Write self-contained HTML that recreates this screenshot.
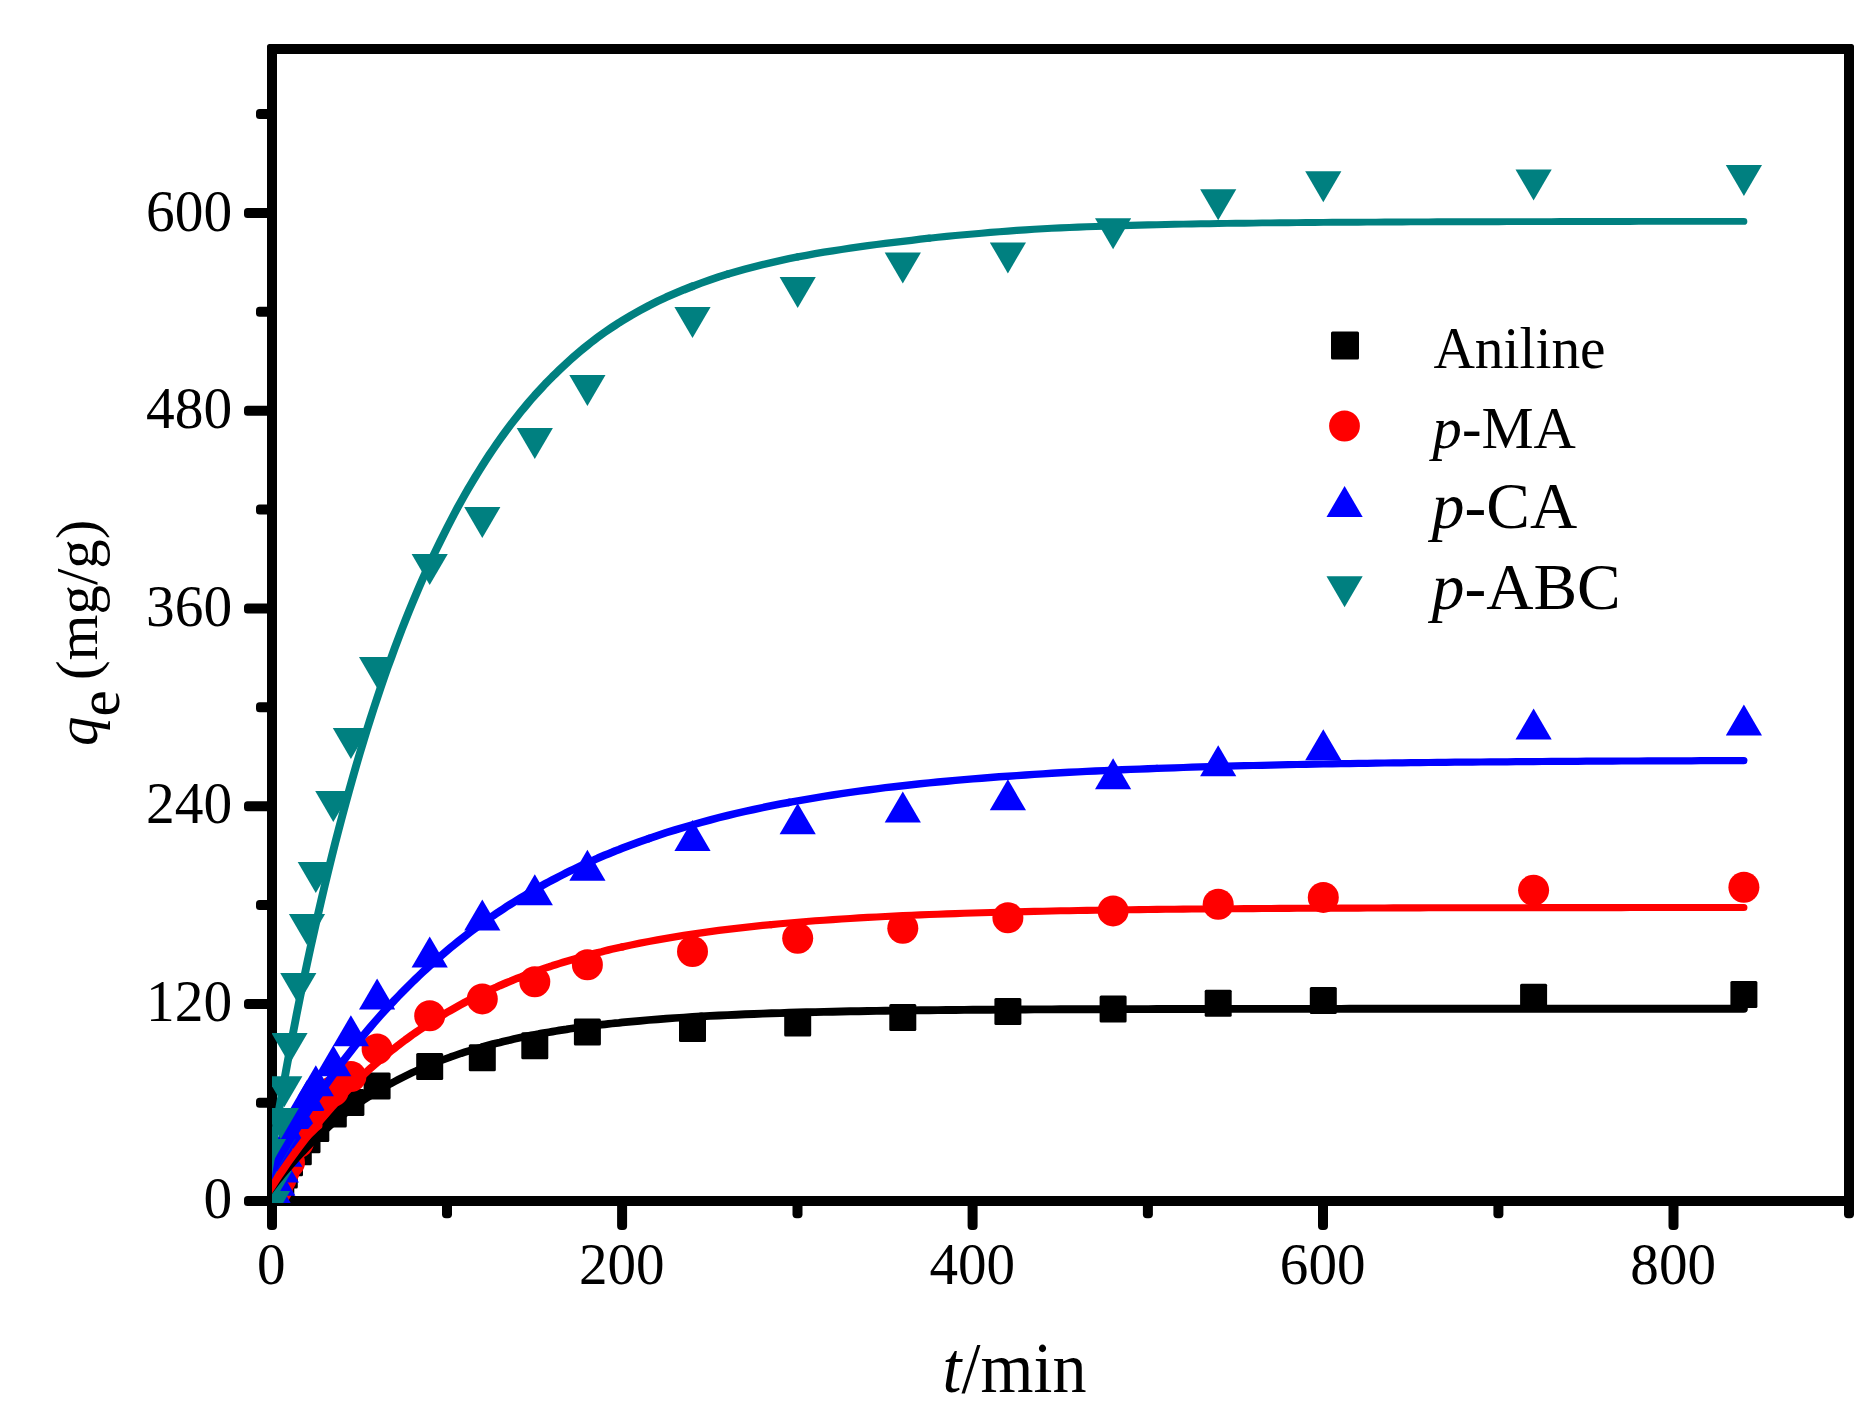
<!DOCTYPE html>
<html lang="en"><head><meta charset="utf-8"><title>Adsorption kinetics</title>
<style>html,body{margin:0;padding:0;background:#fff}svg{display:block}text{font-family:"Liberation Serif",serif;fill:#000}</style>
</head><body>
<svg width="1875" height="1417" viewBox="0 0 1875 1417">
<rect width="1875" height="1417" fill="#fff"/>
<g fill="#000">
<path fill-rule="evenodd" d="M269.5 44H1851.5Q1854 44 1854 46.5V1206H267V46.5Q267 44 269.5 44zM277 54V1196H1844V54z"/>
<rect x="244" y="1196.0" width="28" height="10" rx="3.5"/>
<rect x="244" y="998.9" width="28" height="10" rx="3.5"/>
<rect x="244" y="801.2" width="28" height="10" rx="3.5"/>
<rect x="244" y="603.4" width="28" height="10" rx="3.5"/>
<rect x="244" y="405.7" width="28" height="10" rx="3.5"/>
<rect x="244" y="207.9" width="28" height="10" rx="3.5"/>
<rect x="256" y="1097.8" width="16" height="10" rx="3.5"/>
<rect x="256" y="900.1" width="16" height="10" rx="3.5"/>
<rect x="256" y="702.3" width="16" height="10" rx="3.5"/>
<rect x="256" y="504.5" width="16" height="10" rx="3.5"/>
<rect x="256" y="306.8" width="16" height="10" rx="3.5"/>
<rect x="256" y="109.0" width="16" height="10" rx="3.5"/>
<rect x="267.0" y="1201" width="10" height="29" rx="4"/>
<rect x="617.1" y="1201" width="10" height="29" rx="4"/>
<rect x="967.6" y="1201" width="10" height="29" rx="4"/>
<rect x="1318.0" y="1201" width="10" height="29" rx="4"/>
<rect x="1668.5" y="1201" width="10" height="29" rx="4"/>
<rect x="442.0" y="1201" width="10" height="17.2" rx="4"/>
<rect x="792.5" y="1201" width="10" height="17.2" rx="4"/>
<rect x="1142.9" y="1201" width="10" height="17.2" rx="4"/>
<rect x="1493.4" y="1201" width="10" height="17.2" rx="4"/>
<rect x="1844.0" y="1201" width="10" height="17.2" rx="4"/>
</g>
<defs><clipPath id="c"><rect x="272" y="49" width="1577" height="1154"/></clipPath></defs>
<g clip-path="url(#c)">
<g fill="#000">
<rect x="258.5" y="1187.5" width="27.0" height="27.0" rx="1.5"/>
<rect x="260.3" y="1184.2" width="27.0" height="27.0" rx="1.5"/>
<rect x="263.8" y="1177.5" width="27.0" height="27.0" rx="1.5"/>
<rect x="267.3" y="1169.5" width="27.0" height="27.0" rx="1.5"/>
<rect x="270.8" y="1161.4" width="27.0" height="27.0" rx="1.5"/>
<rect x="276.0" y="1149.3" width="27.0" height="27.0" rx="1.5"/>
<rect x="284.8" y="1138.2" width="27.0" height="27.0" rx="1.5"/>
<rect x="293.5" y="1126.3" width="27.0" height="27.0" rx="1.5"/>
<rect x="302.3" y="1115.0" width="27.0" height="27.0" rx="1.5"/>
<rect x="319.8" y="1100.5" width="27.0" height="27.0" rx="1.5"/>
<rect x="337.4" y="1089.1" width="27.0" height="27.0" rx="1.5"/>
<rect x="363.6" y="1072.5" width="27.0" height="27.0" rx="1.5"/>
<rect x="416.2" y="1052.9" width="27.0" height="27.0" rx="1.5"/>
<rect x="468.8" y="1044.2" width="27.0" height="27.0" rx="1.5"/>
<rect x="521.3" y="1032.3" width="27.0" height="27.0" rx="1.5"/>
<rect x="573.9" y="1018.4" width="27.0" height="27.0" rx="1.5"/>
<rect x="679.0" y="1014.9" width="27.0" height="27.0" rx="1.5"/>
<rect x="784.2" y="1009.5" width="27.0" height="27.0" rx="1.5"/>
<rect x="889.3" y="1003.9" width="27.0" height="27.0" rx="1.5"/>
<rect x="994.4" y="998.1" width="27.0" height="27.0" rx="1.5"/>
<rect x="1099.6" y="995.6" width="27.0" height="27.0" rx="1.5"/>
<rect x="1204.7" y="989.7" width="27.0" height="27.0" rx="1.5"/>
<rect x="1309.8" y="986.9" width="27.0" height="27.0" rx="1.5"/>
<rect x="1520.1" y="983.8" width="27.0" height="27.0" rx="1.5"/>
<rect x="1730.4" y="981.0" width="27.0" height="27.0" rx="1.5"/>
</g><g fill="#f00">
<circle cx="272.0" cy="1201.0" r="15.5"/>
<circle cx="273.8" cy="1197.7" r="15.5"/>
<circle cx="277.3" cy="1189.0" r="15.5"/>
<circle cx="280.8" cy="1179.5" r="15.5"/>
<circle cx="284.3" cy="1171.0" r="15.5"/>
<circle cx="289.5" cy="1162.5" r="15.5"/>
<circle cx="298.3" cy="1142.6" r="15.5"/>
<circle cx="307.0" cy="1125.3" r="15.5"/>
<circle cx="315.8" cy="1107.0" r="15.5"/>
<circle cx="333.3" cy="1091.0" r="15.5"/>
<circle cx="350.9" cy="1076.5" r="15.5"/>
<circle cx="377.1" cy="1049.0" r="15.5"/>
<circle cx="429.7" cy="1015.7" r="15.5"/>
<circle cx="482.3" cy="998.9" r="15.5"/>
<circle cx="534.8" cy="981.8" r="15.5"/>
<circle cx="587.4" cy="964.7" r="15.5"/>
<circle cx="692.5" cy="951.5" r="15.5"/>
<circle cx="797.7" cy="938.3" r="15.5"/>
<circle cx="902.8" cy="928.2" r="15.5"/>
<circle cx="1007.9" cy="917.8" r="15.5"/>
<circle cx="1113.1" cy="910.9" r="15.5"/>
<circle cx="1218.2" cy="904.2" r="15.5"/>
<circle cx="1323.3" cy="897.4" r="15.5"/>
<circle cx="1533.6" cy="890.3" r="15.5"/>
<circle cx="1743.9" cy="887.2" r="15.5"/>
</g><g fill="#00f">
<path d="M253.9 1211.3H290.1L272.0 1180.3z"/>
<path d="M255.7 1205.0H291.9L273.8 1174.0z"/>
<path d="M259.2 1195.8H295.4L277.3 1164.8z"/>
<path d="M262.7 1182.5H298.9L280.8 1151.5z"/>
<path d="M266.2 1166.7H302.4L284.3 1135.7z"/>
<path d="M271.4 1148.8H307.6L289.5 1117.8z"/>
<path d="M280.2 1129.0H316.4L298.3 1098.0z"/>
<path d="M288.9 1110.9H325.1L307.0 1079.9z"/>
<path d="M297.7 1096.2H333.9L315.8 1065.2z"/>
<path d="M315.2 1076.2H351.4L333.3 1045.2z"/>
<path d="M332.8 1046.2H369.0L350.9 1015.2z"/>
<path d="M359.0 1009.5H395.2L377.1 978.5z"/>
<path d="M411.6 967.6H447.8L429.7 936.6z"/>
<path d="M464.2 930.5H500.4L482.3 899.5z"/>
<path d="M516.7 905.3H552.9L534.8 874.3z"/>
<path d="M569.3 880.8H605.5L587.4 849.8z"/>
<path d="M674.4 851.0H710.6L692.5 820.0z"/>
<path d="M779.6 834.2H815.8L797.7 803.2z"/>
<path d="M884.7 822.6H920.9L902.8 791.6z"/>
<path d="M989.8 810.3H1026.0L1007.9 779.3z"/>
<path d="M1095.0 789.3H1131.2L1113.1 758.3z"/>
<path d="M1200.1 776.3H1236.3L1218.2 745.3z"/>
<path d="M1305.2 760.3H1341.4L1323.3 729.3z"/>
<path d="M1515.5 739.6H1551.7L1533.6 708.6z"/>
<path d="M1725.8 735.6H1762.0L1743.9 704.6z"/>
</g><g fill="#008080">
<path d="M253.9 1191.0H290.1L272.0 1222.0z"/>
<path d="M255.7 1171.0H291.9L273.8 1202.0z"/>
<path d="M259.2 1139.0H295.4L277.3 1170.0z"/>
<path d="M262.7 1108.0H298.9L280.8 1139.0z"/>
<path d="M266.2 1076.2H302.4L284.3 1107.2z"/>
<path d="M271.4 1033.0H307.6L289.5 1064.0z"/>
<path d="M280.2 973.0H316.4L298.3 1004.0z"/>
<path d="M288.9 914.0H325.1L307.0 945.0z"/>
<path d="M297.7 862.0H333.9L315.8 893.0z"/>
<path d="M315.2 791.0H351.4L333.3 822.0z"/>
<path d="M332.8 728.0H369.0L350.9 759.0z"/>
<path d="M359.0 657.0H395.2L377.1 688.0z"/>
<path d="M411.6 554.0H447.8L429.7 585.0z"/>
<path d="M464.2 507.0H500.4L482.3 538.0z"/>
<path d="M516.7 428.0H552.9L534.8 459.0z"/>
<path d="M569.3 375.0H605.5L587.4 406.0z"/>
<path d="M674.4 307.0H710.6L692.5 338.0z"/>
<path d="M779.6 277.0H815.8L797.7 308.0z"/>
<path d="M884.7 252.6H920.9L902.8 283.6z"/>
<path d="M989.8 242.4H1026.0L1007.9 273.4z"/>
<path d="M1095.0 218.3H1131.2L1113.1 249.3z"/>
<path d="M1200.1 189.2H1236.3L1218.2 220.2z"/>
<path d="M1305.2 171.3H1341.4L1323.3 202.3z"/>
<path d="M1515.5 169.4H1551.7L1533.6 200.4z"/>
<path d="M1725.8 164.9H1762.0L1743.9 195.9z"/>
</g>
<g fill="none" stroke-linecap="round" stroke-linejoin="round">
<g stroke="#000">
<path stroke-width="7.5" d="M261.5 1202.2L265.0 1197.3L268.5 1192.5L272.0 1187.8L275.5 1183.3L279.0 1178.8L282.5 1174.5L286.0 1170.3L289.5 1166.2L293.0 1162.2L296.5 1158.3L300.0 1154.5L303.5 1150.8L307.0 1147.2L310.5 1143.7L314.1 1140.2L317.6 1136.9L321.1 1133.6L324.6 1130.5L328.1 1127.4L331.6 1124.3L335.1 1121.4L338.6 1118.5L342.1 1115.8L345.6 1113.0L349.1 1110.4L352.6 1107.8L356.1 1105.3L359.6 1102.8L363.1 1100.4L366.6 1098.1L370.1 1095.8L373.6 1093.6L377.1 1091.5L380.6 1089.4L384.1 1087.3L387.6 1085.3L391.2 1083.4L394.7 1081.5L398.2 1079.6L401.7 1077.8L405.2 1076.1L408.7 1074.4L412.2 1072.7L415.7 1071.1L419.2 1069.5L422.7 1067.9L426.2 1066.4L429.7 1065.0L433.2 1063.5L436.7 1062.2L440.2 1060.8L443.7 1059.5L447.2 1058.2L450.7 1056.9L454.2 1055.7L457.7 1054.5L461.2 1053.3L464.7 1052.2L468.2 1051.1L471.8 1050.0L475.3 1049.0L478.8 1048.0L482.3 1047.0"/>
<path stroke-width="7.7" d="M482.3 1047.0L485.8 1046.0L489.3 1045.0L492.8 1044.1L496.3 1043.2L499.8 1042.4L503.3 1041.5L506.8 1040.7L510.3 1039.9L513.8 1039.1L517.3 1038.3L520.8 1037.5L524.3 1036.8L527.8 1036.1L531.3 1035.4L534.8 1034.7L538.3 1034.1L541.8 1033.4L545.3 1032.8L548.9 1032.2L552.4 1031.6L555.9 1031.0L559.4 1030.4L562.9 1029.9L566.4 1029.4L569.9 1028.8L573.4 1028.3L576.9 1027.8L580.4 1027.3L583.9 1026.9L587.4 1026.4L590.9 1026.0L594.4 1025.5L597.9 1025.1L601.4 1024.7L604.9 1024.3L608.4 1023.9L611.9 1023.5L615.4 1023.1L618.9 1022.8L622.4 1022.4L631.2 1021.6L640.0 1020.8L648.7 1020.0L657.5 1019.3L666.2 1018.7L675.0 1018.0L683.8 1017.5L692.5 1016.9L701.3 1016.4"/>
<path stroke-width="7.9" d="M701.3 1016.4L710.1 1015.9L718.8 1015.5L727.6 1015.1L736.3 1014.7L745.1 1014.3L753.9 1014.0L762.6 1013.6L771.4 1013.3L780.1 1013.1L788.9 1012.8L797.7 1012.5L806.4 1012.3L815.2 1012.1L823.9 1011.9L832.7 1011.7L841.5 1011.5L850.2 1011.3L859.0 1011.2L867.8 1011.0L876.5 1010.9L885.3 1010.8L894.0 1010.6L902.8 1010.5L911.6 1010.4L920.3 1010.3L929.1 1010.2L937.8 1010.1L946.6 1010.0L955.4 1010.0L964.1 1009.9L972.9 1009.8L981.6 1009.8L990.4 1009.7L999.2 1009.6L1007.9 1009.6L1016.7 1009.5L1025.5 1009.5L1034.2 1009.4L1043.0 1009.4L1051.7 1009.4L1060.5 1009.3L1069.3 1009.3L1078.0 1009.3L1086.8 1009.2L1095.5 1009.2L1104.3 1009.2L1113.1 1009.2L1121.8 1009.1L1130.6 1009.1L1139.3 1009.1L1148.1 1009.1L1156.9 1009.0L1165.6 1009.0L1174.4 1009.0L1183.2 1009.0L1191.9 1009.0L1200.7 1009.0L1209.4 1009.0L1218.2 1009.0L1227.0 1008.9L1235.7 1008.9L1244.5 1008.9L1253.2 1008.9L1262.0 1008.9L1270.8 1008.9L1279.5 1008.9L1288.3 1008.9L1297.0 1008.9L1305.8 1008.9L1314.6 1008.9L1323.3 1008.9L1332.1 1008.9L1340.9 1008.9L1349.6 1008.8L1358.4 1008.8L1367.1 1008.8L1375.9 1008.8L1384.7 1008.8L1393.4 1008.8L1402.2 1008.8L1410.9 1008.8L1419.7 1008.8L1428.5 1008.8L1437.2 1008.8L1446.0 1008.8L1454.8 1008.8L1463.5 1008.8L1472.3 1008.8L1481.0 1008.8L1489.8 1008.8L1498.6 1008.8L1507.3 1008.8L1516.1 1008.8L1524.8 1008.8L1533.6 1008.8L1542.4 1008.8L1551.1 1008.8L1559.9 1008.8L1568.6 1008.8L1577.4 1008.8L1586.2 1008.8L1594.9 1008.8L1603.7 1008.8L1612.4 1008.8L1621.2 1008.8L1630.0 1008.8L1638.7 1008.8L1647.5 1008.8L1656.3 1008.8L1665.0 1008.8L1673.8 1008.8L1682.5 1008.8L1691.3 1008.8L1700.1 1008.8L1708.8 1008.8L1717.6 1008.8L1726.3 1008.8L1735.1 1008.8L1743.9 1008.8"/>
</g>
<g stroke="#f00">
<path stroke-width="7.7" d="M261.5 1203.2L265.0 1197.5L268.5 1191.9L272.0 1186.4L275.5 1180.9L279.0 1175.6L282.5 1170.5L286.0 1165.4L289.5 1160.4L293.0 1155.5L296.5 1150.7L300.0 1145.9L303.5 1141.3L307.0 1136.8L310.5 1132.3L314.1 1128.0L317.6 1123.7L321.1 1119.5L324.6 1115.4L328.1 1111.4L331.6 1107.4L335.1 1103.6L338.6 1099.8L342.1 1096.0L345.6 1092.4L349.1 1088.8L352.6 1085.3L356.1 1081.8L359.6 1078.4L363.1 1075.1L366.6 1071.9L370.1 1068.7L373.6 1065.6L377.1 1062.5L380.6 1059.5L384.1 1056.6L387.6 1053.7L391.2 1050.8L394.7 1048.1L398.2 1045.3L401.7 1042.7L405.2 1040.0L408.7 1037.5L412.2 1034.9L415.7 1032.5L419.2 1030.1L422.7 1027.7L426.2 1025.3L429.7 1023.1L433.2 1020.8L436.7 1018.6L440.2 1016.5L443.7 1014.4L447.2 1012.3L450.7 1010.3L454.2 1008.3L457.7 1006.3L461.2 1004.4L464.7 1002.5L468.2 1000.7L471.8 998.9L475.3 997.1L478.8 995.4L482.3 993.6L485.8 992.0L489.3 990.3L492.8 988.7L496.3 987.2L499.8 985.6L503.3 984.1L506.8 982.6L510.3 981.2L513.8 979.7L517.3 978.3L520.8 977.0L524.3 975.6L527.8 974.3L531.3 973.0L534.8 971.7"/>
<path stroke-width="7.5" d="M534.8 971.7L538.3 970.5L541.8 969.2L545.3 968.0L548.9 966.9L552.4 965.7L555.9 964.6L559.4 963.5L562.9 962.4L566.4 961.3L569.9 960.3L573.4 959.3L576.9 958.3L580.4 957.3L583.9 956.3L587.4 955.4L590.9 954.4L594.4 953.5L597.9 952.6L601.4 951.8L604.9 950.9L608.4 950.0L611.9 949.2L615.4 948.4L618.9 947.6L622.4 946.8"/>
<path stroke-width="7.3" d="M622.4 946.8L631.2 945.0L640.0 943.2L648.7 941.5L657.5 939.8L666.2 938.3L675.0 936.8L683.8 935.4L692.5 934.1L701.3 932.8L710.1 931.6L718.8 930.4L727.6 929.3L736.3 928.3L745.1 927.3L753.9 926.3L762.6 925.4L771.4 924.6"/>
<path stroke-width="7.1" d="M771.4 924.6L780.1 923.8L788.9 923.0L797.7 922.2L806.4 921.5L815.2 920.8L823.9 920.2L832.7 919.6L841.5 919.0L850.2 918.5L859.0 917.9L867.8 917.4L876.5 917.0L885.3 916.5L894.0 916.1L902.8 915.6L911.6 915.3L920.3 914.9L929.1 914.5L937.8 914.2L946.6 913.9L955.4 913.6L964.1 913.3L972.9 913.0L981.6 912.7L990.4 912.5L999.2 912.2L1007.9 912.0L1016.7 911.8L1025.5 911.6L1034.2 911.4L1043.0 911.2L1051.7 911.0L1060.5 910.8L1069.3 910.7L1078.0 910.5L1086.8 910.4L1095.5 910.2L1104.3 910.1L1113.1 910.0L1121.8 909.8L1130.6 909.7L1139.3 909.6L1148.1 909.5L1156.9 909.4L1165.6 909.3L1174.4 909.2L1183.2 909.1L1191.9 909.0L1200.7 909.0L1209.4 908.9L1218.2 908.8L1227.0 908.8L1235.7 908.7L1244.5 908.6L1253.2 908.6L1262.0 908.5L1270.8 908.5L1279.5 908.4L1288.3 908.4L1297.0 908.3L1305.8 908.3L1314.6 908.2L1323.3 908.2L1332.1 908.2L1340.9 908.1L1349.6 908.1L1358.4 908.1L1367.1 908.0L1375.9 908.0L1384.7 908.0L1393.4 907.9L1402.2 907.9L1410.9 907.9L1419.7 907.9L1428.5 907.8L1437.2 907.8L1446.0 907.8L1454.8 907.8L1463.5 907.8L1472.3 907.7L1481.0 907.7L1489.8 907.7L1498.6 907.7L1507.3 907.7L1516.1 907.7L1524.8 907.7L1533.6 907.6L1542.4 907.6L1551.1 907.6L1559.9 907.6L1568.6 907.6L1577.4 907.6L1586.2 907.6L1594.9 907.6L1603.7 907.6L1612.4 907.6L1621.2 907.6L1630.0 907.5L1638.7 907.5L1647.5 907.5L1656.3 907.5L1665.0 907.5L1673.8 907.5L1682.5 907.5L1691.3 907.5L1700.1 907.5L1708.8 907.5L1717.6 907.5L1726.3 907.5L1735.1 907.5L1743.9 907.5"/>
</g>
<g stroke="#00f">
<path stroke-width="7.8" d="M261.5 1191.0L265.0 1184.4L268.5 1177.9L272.0 1171.5L275.5 1165.3L279.0 1159.1L282.5 1153.0L286.0 1147.0L289.5 1141.0L293.0 1135.2L296.5 1129.5L300.0 1123.8L303.5 1118.3L307.0 1112.8L310.5 1107.4L314.1 1102.1L317.6 1096.9L321.1 1091.7L324.6 1086.6L328.1 1081.7L331.6 1076.7L335.1 1071.9L338.6 1067.1L342.1 1062.4L345.6 1057.8L349.1 1053.3L352.6 1048.8L356.1 1044.4L359.6 1040.0L363.1 1035.7L366.6 1031.5L370.1 1027.4L373.6 1023.3L377.1 1019.3L380.6 1015.3L384.1 1011.4L387.6 1007.6L391.2 1003.8L394.7 1000.0L398.2 996.4L401.7 992.8L405.2 989.2L408.7 985.7L412.2 982.3L415.7 978.9L419.2 975.5L422.7 972.2L426.2 969.0L429.7 965.8L433.2 962.6L436.7 959.5L440.2 956.5L443.7 953.5L447.2 950.5L450.7 947.6L454.2 944.7L457.7 941.9L461.2 939.1L464.7 936.4L468.2 933.7L471.8 931.0L475.3 928.4L478.8 925.9L482.3 923.3L485.8 920.8L489.3 918.4L492.8 915.9L496.3 913.6L499.8 911.2L503.3 908.9L506.8 906.6L510.3 904.4L513.8 902.2L517.3 900.0L520.8 897.9L524.3 895.8L527.8 893.7L531.3 891.6L534.8 889.6L538.3 887.6L541.8 885.7L545.3 883.8L548.9 881.9L552.4 880.0L555.9 878.2L559.4 876.4L562.9 874.6L566.4 872.8L569.9 871.1L573.4 869.4L576.9 867.7L580.4 866.1L583.9 864.5L587.4 862.9L590.9 861.3L594.4 859.8L597.9 858.2L601.4 856.7L604.9 855.2L608.4 853.8L611.9 852.4L615.4 850.9L618.9 849.6L622.4 848.2L631.2 844.9L640.0 841.6L648.7 838.6"/>
<path stroke-width="7.6" d="M648.7 838.6L657.5 835.6L666.2 832.7L675.0 830.0L683.8 827.3L692.5 824.8L701.3 822.3L710.1 820.0L718.8 817.7L727.6 815.5L736.3 813.4L745.1 811.4L753.9 809.5L762.6 807.6L771.4 805.8L780.1 804.1L788.9 802.4"/>
<path stroke-width="7.4" d="M788.9 802.4L797.7 800.8L806.4 799.3L815.2 797.8L823.9 796.3L832.7 795.0L841.5 793.6L850.2 792.4L859.0 791.2L867.8 790.0L876.5 788.8L885.3 787.7L894.0 786.7L902.8 785.7L911.6 784.7L920.3 783.8L929.1 782.9L937.8 782.0L946.6 781.2L955.4 780.4L964.1 779.6L972.9 778.9L981.6 778.2L990.4 777.5L999.2 776.8L1007.9 776.2L1016.7 775.6L1025.5 775.0L1034.2 774.4L1043.0 773.9L1051.7 773.3L1060.5 772.8L1069.3 772.3L1078.0 771.9L1086.8 771.4L1095.5 771.0L1104.3 770.6L1113.1 770.2L1121.8 769.8L1130.6 769.4L1139.3 769.1L1148.1 768.7L1156.9 768.4"/>
<path stroke-width="7.2" d="M1156.9 768.4L1165.6 768.1L1174.4 767.8L1183.2 767.5L1191.9 767.2L1200.7 766.9L1209.4 766.6L1218.2 766.4L1227.0 766.1L1235.7 765.9L1244.5 765.7L1253.2 765.5L1262.0 765.3L1270.8 765.1L1279.5 764.9L1288.3 764.7L1297.0 764.5L1305.8 764.3L1314.6 764.2L1323.3 764.0L1332.1 763.9L1340.9 763.7L1349.6 763.6L1358.4 763.4L1367.1 763.3L1375.9 763.2L1384.7 763.0L1393.4 762.9L1402.2 762.8L1410.9 762.7L1419.7 762.6L1428.5 762.5L1437.2 762.4L1446.0 762.3L1454.8 762.2L1463.5 762.1L1472.3 762.1L1481.0 762.0L1489.8 761.9L1498.6 761.8L1507.3 761.8L1516.1 761.7L1524.8 761.6L1533.6 761.6L1542.4 761.5L1551.1 761.4L1559.9 761.4L1568.6 761.3L1577.4 761.3L1586.2 761.2L1594.9 761.2L1603.7 761.1L1612.4 761.1L1621.2 761.0L1630.0 761.0L1638.7 761.0L1647.5 760.9L1656.3 760.9L1665.0 760.9L1673.8 760.8L1682.5 760.8L1691.3 760.8L1700.1 760.7L1708.8 760.7L1717.6 760.7L1726.3 760.6L1735.1 760.6L1743.9 760.6"/>
</g>
<g stroke="#008080">
<path stroke-width="7.9" d="M261.5 1216.4L265.0 1194.1L268.5 1172.4L272.0 1151.1L275.5 1130.4L279.0 1110.0L282.5 1090.2L286.0 1070.8L289.5 1051.8L293.0 1033.2L296.5 1015.1L300.0 997.5L303.5 980.5L307.0 963.9L310.5 947.6L314.1 931.7L317.6 916.2L321.1 901.0L324.6 886.1L328.1 871.5L331.6 857.3L335.1 843.3L338.6 829.7L342.1 816.4L345.6 803.4L349.1 790.6L352.6 778.1L356.1 765.9L359.6 754.0L363.1 742.4L366.6 730.9L370.1 719.8L373.6 708.9L377.1 698.2L380.6 687.7L384.1 677.5L387.6 667.5L391.2 657.8L394.7 648.2L398.2 638.8L401.7 629.7L405.2 620.8L408.7 612.0L412.2 603.4L415.7 595.1L419.2 586.9L422.7 578.9L426.2 571.0L429.7 563.4L433.2 555.9L436.7 548.6L440.2 541.4L443.7 534.4L447.2 527.5L450.7 520.7L454.2 514.0L457.7 507.4L461.2 501.1L464.7 494.8L468.2 488.7L471.8 482.7L475.3 476.9L478.8 471.2L482.3 465.6L485.8 460.1L489.3 454.8L492.8 449.6L496.3 444.5L499.8 439.5L503.3 434.6L506.8 429.8L510.3 425.2L513.8 420.6L517.3 416.2L520.8 411.8L524.3 407.6L527.8 403.4L531.3 399.3L534.8 395.3L538.3 391.5L541.8 387.7L545.3 383.9L548.9 380.3L552.4 376.7L555.9 373.3L559.4 369.9L562.9 366.6L566.4 363.3L569.9 360.1L573.4 357.0L576.9 354.0L580.4 351.0L583.9 348.1L587.4 345.3L590.9 342.5L594.4 339.8L597.9 337.2L601.4 334.6L604.9 332.1L608.4 329.7L611.9 327.4L615.4 325.1L618.9 322.8L622.4 320.7L631.2 315.4L640.0 310.4L648.7 305.7L657.5 301.3L666.2 297.2L675.0 293.4L683.8 289.7L692.5 286.3"/>
<path stroke-width="7.7" d="M692.5 286.3L701.3 283.0L710.1 279.9L718.8 276.9L727.6 274.1"/>
<path stroke-width="7.5" d="M727.6 274.1L736.3 271.6L745.1 269.2L753.9 266.9L762.6 264.7L771.4 262.6L780.1 260.6L788.9 258.7L797.7 256.9"/>
<path stroke-width="7.3" d="M797.7 256.9L806.4 255.3L815.2 253.7L823.9 252.2L832.7 250.8L841.5 249.5L850.2 248.2L859.0 246.9L867.8 245.7L876.5 244.5L885.3 243.4L894.0 242.4L902.8 241.4L911.6 240.3L920.3 239.2L929.1 238.2"/>
<path stroke-width="7.1" d="M929.1 238.2L937.8 237.3L946.6 236.4L955.4 235.5L964.1 234.7L972.9 234.0L981.6 233.2L990.4 232.4L999.2 231.7L1007.9 231.1L1016.7 230.4L1025.5 229.9L1034.2 229.3L1043.0 228.8L1051.7 228.3L1060.5 227.9L1069.3 227.5L1078.0 227.1L1086.8 226.8L1095.5 226.5L1104.3 226.2L1113.1 225.9L1121.8 225.6L1130.6 225.4L1139.3 225.1L1148.1 224.9L1156.9 224.7L1165.6 224.5"/>
<path stroke-width="6.9" d="M1165.6 224.5L1174.4 224.3L1183.2 224.1L1191.9 224.0L1200.7 223.8L1209.4 223.7L1218.2 223.5L1227.0 223.4L1235.7 223.3L1244.5 223.2L1253.2 223.1L1262.0 222.9L1270.8 222.9L1279.5 222.8L1288.3 222.7L1297.0 222.6L1305.8 222.5L1314.6 222.5L1323.3 222.4L1332.1 222.3L1340.9 222.3L1349.6 222.2L1358.4 222.2L1367.1 222.1L1375.9 222.1L1384.7 222.0L1393.4 222.0L1402.2 222.0L1410.9 221.9L1419.7 221.9L1428.5 221.9L1437.2 221.8L1446.0 221.8L1454.8 221.8L1463.5 221.7L1472.3 221.7L1481.0 221.7L1489.8 221.7L1498.6 221.7L1507.3 221.6L1516.1 221.6L1524.8 221.6L1533.6 221.6L1542.4 221.6L1551.1 221.6L1559.9 221.5L1568.6 221.5L1577.4 221.5L1586.2 221.5L1594.9 221.5L1603.7 221.5L1612.4 221.5L1621.2 221.5L1630.0 221.5L1638.7 221.4L1647.5 221.4L1656.3 221.4L1665.0 221.4L1673.8 221.4L1682.5 221.4L1691.3 221.4L1700.1 221.4L1708.8 221.4L1717.6 221.4L1726.3 221.4L1735.1 221.4L1743.9 221.4"/>
</g>
</g></g>
<text transform="translate(232.1 1218.0) scale(0.975 1)" font-size="58.9" text-anchor="end">0</text>
<text transform="translate(232.1 1020.6) scale(0.975 1)" font-size="58.9" text-anchor="end">120</text>
<text transform="translate(232.1 823.2) scale(0.975 1)" font-size="58.9" text-anchor="end">240</text>
<text transform="translate(232.1 625.8) scale(0.975 1)" font-size="58.9" text-anchor="end">360</text>
<text transform="translate(232.1 428.4) scale(0.975 1)" font-size="58.9" text-anchor="end">480</text>
<text transform="translate(232.1 231.0) scale(0.975 1)" font-size="58.9" text-anchor="end">600</text>
<text transform="translate(271.4 1284) scale(0.97 1)" font-size="58.9" text-anchor="middle">0</text>
<text transform="translate(621.8 1284) scale(0.97 1)" font-size="58.9" text-anchor="middle">200</text>
<text transform="translate(972.3 1284) scale(0.97 1)" font-size="58.9" text-anchor="middle">400</text>
<text transform="translate(1322.7 1284) scale(0.97 1)" font-size="58.9" text-anchor="middle">600</text>
<text transform="translate(1673.2 1284) scale(0.97 1)" font-size="58.9" text-anchor="middle">800</text>
<rect x="1331" y="331.5" width="28" height="28" rx="1.5" fill="#000"/>
<circle cx="1344.5" cy="426" r="15.4" fill="#f00"/>
<path d="M1326.5 517H1362.7L1344.6 486z" fill="#00f"/>
<path d="M1326.5 576.2H1362.7L1344.6 607.2z" fill="#008080"/>
<text transform="translate(1433.4 368.4) scale(0.98 1)" font-size="58.6">Aniline</text>
<text x="1432.6" y="447.9" font-size="58.6"><tspan font-style="italic">p</tspan>-MA</text>
<text x="1431.8" y="528" font-size="65.4"><tspan font-style="italic">p</tspan>-CA</text>
<text x="1431.8" y="608.5" font-size="65.4"><tspan font-style="italic">p</tspan>-ABC</text>
<text transform="translate(942.6 1391.7) scale(0.94 1)" font-size="72.5"><tspan font-style="italic">t</tspan>/min</text>
<text transform="translate(96.5 746) rotate(-90)" font-size="59"><tspan font-style="italic">q</tspan><tspan dy="22.5">e</tspan><tspan dy="-22.5" dx="-4.5"> (mg/g)</tspan></text>
</svg></body></html>
